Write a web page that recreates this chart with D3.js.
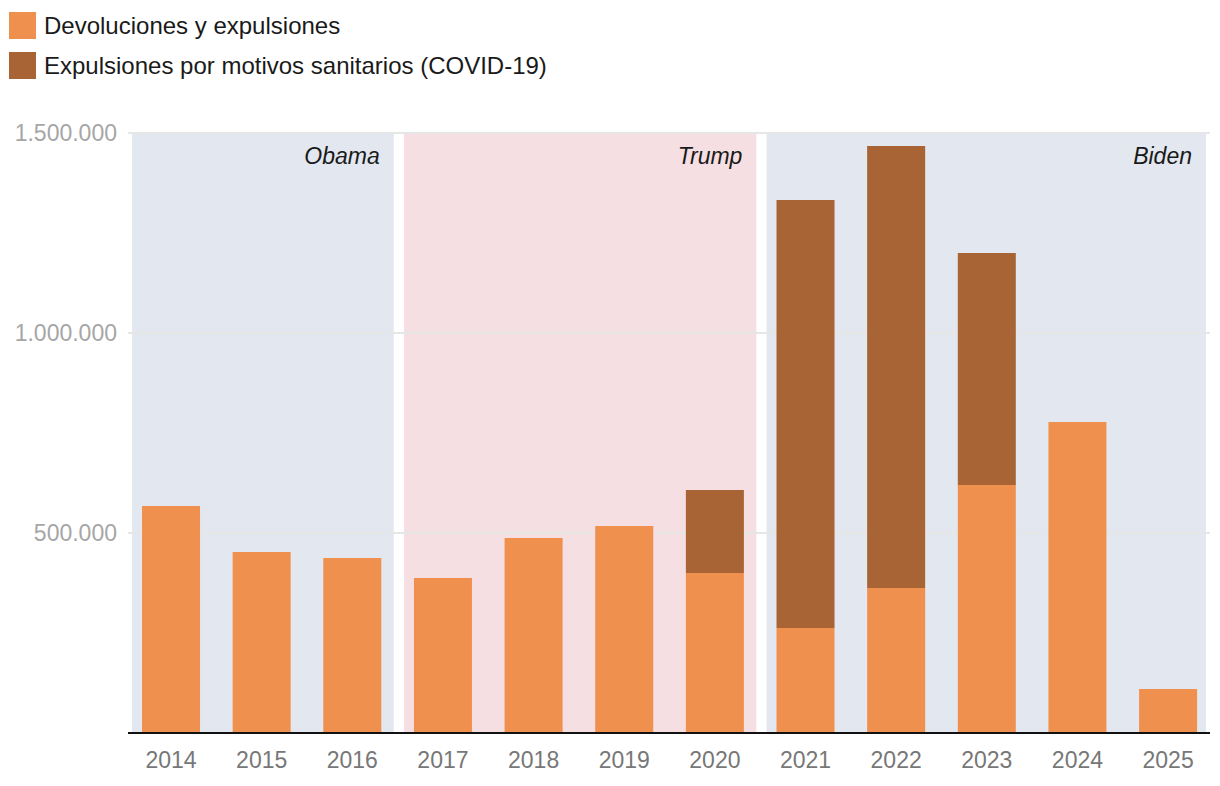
<!DOCTYPE html>
<html>
<head>
<meta charset="utf-8">
<script src="https://cdn.jsdelivr.net/npm/d3@7"></script>
<style>
  body { margin: 0; background: #fff; }
  svg { font-family: "Liberation Sans", Arial, Helvetica, sans-serif; }
</style>
</head>
<body>
<svg id="chart"></svg>
<script>
// data
var years = ["2014","2015","2016","2017","2018","2019","2020","2021","2022","2023","2024","2025"]
var devoluciones = [567500, 452500, 437500, 387500, 487500, 517500, 400000, 262500, 362500, 620000, 777500, 110000]
var covid = [0, 0, 0, 0, 0, 0, 207500, 1070000, 1105000, 580000, 0, 0]
var yTicks = [500000, 1000000, 1500000]
var seriesNames = ["Devoluciones y expulsiones", "Expulsiones por motivos sanitarios (COVID-19)"]
var seriesColors = ["#f0904e", "#a86434"]
var eras = [
  {name: "Obama", first: "2014", last: "2016", color: "#e3e8f0"},
  {name: "Trump", first: "2017", last: "2020", color: "#f5dfe2"},
  {name: "Biden", first: "2021", last: "2025", color: "#e3e8f0"}
]

var screen = {width: 1220, height: 786}
var plot = {left: 128, right: 1210, top: 133, bottom: 733}

var svg = d3.select("#chart")
  .attr("width", screen.width)
  .attr("height", screen.height)

var xScale = d3.scaleBand()
  .domain(years)
  .range([125.7, 1213.4])
  .paddingInner(0.36)
  .paddingOuter(0.18)

var yScale = d3.scaleLinear()
  .domain([0, 1500000])
  .range([plot.bottom, plot.top])

var fmt = function(v){
  return d3.format(",")(v).replace(/,/g, ".")
}

var eraEnd = function(d){
  return Math.min(xScale(d.last) + xScale.bandwidth() + 12.5, 1206)
}

// era backgrounds
svg.selectAll("rect.era")
  .data(eras)
  .enter()
  .append("rect")
  .attr("class", "era")
  .attr("x", function(d){ return xScale(d.first) - 10 })
  .attr("y", plot.top)
  .attr("width", function(d){ return eraEnd(d) - (xScale(d.first) - 10) })
  .attr("height", plot.bottom - plot.top)
  .attr("fill", function(d){ return d.color })

// gridlines
svg.selectAll("line.grid")
  .data(yTicks)
  .enter()
  .append("line")
  .attr("class", "grid")
  .attr("x1", plot.left)
  .attr("x2", plot.right)
  .attr("y1", function(d){ return yScale(d) })
  .attr("y2", function(d){ return yScale(d) })
  .attr("stroke", "#e6e6e6")
  .attr("stroke-width", 2)

// era labels
svg.selectAll("text.era")
  .data(eras)
  .enter()
  .append("text")
  .attr("class", "era")
  .attr("x", function(d){ return eraEnd(d) - 14 })
  .attr("y", plot.top + 31)
  .attr("text-anchor", "end")
  .attr("font-style", "italic")
  .attr("font-size", "23px")
  .attr("fill", "#1a1a1a")
  .text(function(d){ return d.name })

// stacked bars
var rows = years.map(function(y, i){
  return {year: y, dev: devoluciones[i], cov: covid[i]}
})
var stack = d3.stack().keys(["dev", "cov"])(rows)

svg.selectAll("g.series")
  .data(stack)
  .enter()
  .append("g")
  .attr("class", "series")
  .attr("fill", function(d, i){ return seriesColors[i] })
  .selectAll("rect")
  .data(function(d){ return d.filter(function(p){ return p[1] > p[0] }) })
  .enter()
  .append("rect")
  .attr("x", function(d){ return xScale(d.data.year) })
  .attr("y", function(d){ return yScale(d[1]) })
  .attr("width", xScale.bandwidth())
  .attr("height", function(d){ return yScale(d[0]) - yScale(d[1]) })

// x axis
var xAxis = d3.axisBottom(xScale).tickSize(0).tickPadding(19)
var gx = svg.append("g")
  .attr("transform", "translate(0," + plot.bottom + ")")
  .call(xAxis)
gx.select(".domain").remove()
gx.selectAll("text")
  .attr("font-size", "23px")
  .attr("font-family", "Liberation Sans, Arial, sans-serif")
  .attr("fill", "#777")
svg.append("line")
  .attr("x1", plot.left)
  .attr("x2", plot.right)
  .attr("y1", plot.bottom)
  .attr("y2", plot.bottom)
  .attr("stroke", "#111")
  .attr("stroke-width", 2)

// y axis labels
svg.selectAll("text.ytick")
  .data(yTicks)
  .enter()
  .append("text")
  .attr("class", "ytick")
  .attr("x", 117)
  .attr("y", function(d){ return yScale(d) })
  .attr("dy", "0.35em")
  .attr("text-anchor", "end")
  .attr("font-size", "23px")
  .attr("fill", "#a6a6a6")
  .text(function(d){ return fmt(d) })

// legend
var legend = svg.selectAll("g.legend")
  .data(seriesNames)
  .enter()
  .append("g")
  .attr("class", "legend")
  .attr("transform", function(d, i){ return "translate(9," + (12 + i * 40) + ")" })
legend.append("rect")
  .attr("width", 27)
  .attr("height", 27)
  .attr("fill", function(d, i){ return seriesColors[i] })
legend.append("text")
  .attr("x", 35)
  .attr("y", 13.5)
  .attr("dy", "0.35em")
  .attr("font-size", "24px")
  .attr("fill", "#1a1a1a")
  .text(function(d){ return d })
</script>
</body>
</html>
